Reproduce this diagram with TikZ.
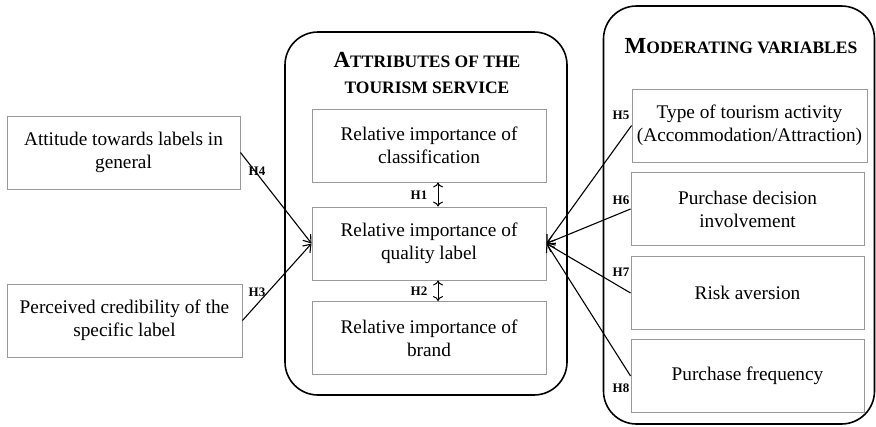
\documentclass[tikz,border=0pt]{standalone}
\usepackage{fontspec}
\setmainfont{Liberation Serif}
\usetikzlibrary{arrows.meta}
\newcommand{\bigsc}[2]{{\fontsize{23}{26}\selectfont #1}{\fontsize{17.5}{26}\selectfont #2}}
\begin{document}
\begin{tikzpicture}[x=1pt,y=-1pt,
  box/.style={draw=black!40, line width=0.9pt, align=center, inner sep=0pt,
    minimum width=234pt, minimum height=73pt, font=\fontsize{19.3}{23}\selectfont},
  container/.style={draw=black, line width=1.6pt, rounded corners=33pt, inner sep=0pt},
  title/.style={anchor=base, font=\bfseries, inner sep=0pt},
  hlab/.style={font=\fontsize{13}{14}\selectfont\bfseries, inner sep=0pt},
  arr/.style={line width=1.1pt, -{Straight Barb[length=7pt,width=10pt,line width=1.1pt]}},
  darr/.style={line width=1pt, {Computer Modern Rightarrow[length=5pt,width=10pt]}-{Computer Modern Rightarrow[length=5pt,width=10pt]}}
]
\useasboundingbox (0,0) rectangle (876,426);
% containers
\node[container, minimum width=282pt, minimum height=363pt] (attr) at (426,213.5) {};
\node[container, minimum width=271pt, minimum height=418pt] (mod) at (739,215) {};
% titles
\node[title] (attrT) at (427,67) {\bigsc{A}{TTRIBUTES OF THE}};
\node[title] (attrT2) at (427,93) {\fontsize{17.5}{26}\selectfont TOURISM SERVICE};
\node[title] (modT) at (741,53) {\bigsc{M}{ODERATING VARIABLES}};
% left boxes
\node[box, minimum width=233pt] (att) at (123.5,152.5) {Attitude towards labels in\\general};
\node[box, minimum width=235pt] (cred) at (124.5,320.5) {Perceived credibility of the\\specific label};
% center boxes
\node[box] (cls) at (429,145.5) {Relative importance of\\classification};
\node[box] (ql) at (429,243.5) {Relative importance of\\quality label};
\node[box] (br) at (429,338) {Relative importance of\\brand};
% right boxes
\node[box, minimum width=235pt] (type) at (749.5,125.5) {Type of tourism activity\\(Accommodation/Attraction)};
\node[box, minimum width=233pt] (pdi) at (747.5,209) {Purchase decision\\involvement};
\node[box, minimum width=233pt] (risk) at (747.5,293) {Risk aversion};
\node[box, minimum width=233pt] (freq) at (747.5,376) {Purchase frequency};
% connectors
\draw[arr] (att.east) -- (ql.west);
\draw[arr] (cred.east) -- (ql.west);
\draw[arr] (type.west) -- (ql.east);
\draw[arr] (pdi.west) -- (ql.east);
\draw[arr] (risk.west) -- (ql.east);
\draw[arr] (freq.west) -- (ql.east);
\draw[darr] (cls.south -| 438,0) -- (ql.north -| 438,0);
\draw[darr] (ql.south -| 438,0) -- (br.north -| 438,0);
% labels
\node[hlab] (h1) at (419,195) {H1};
\node[hlab] (h2) at (419,291) {H2};
\node[hlab] (h3) at (257,292) {H3};
\node[hlab] (h4) at (257,171) {H4};
\node[hlab] (h5) at (621,115) {H5};
\node[hlab] (h6) at (621,200) {H6};
\node[hlab] (h7) at (621,272) {H7};
\node[hlab] (h8) at (621,388) {H8};
\end{tikzpicture}
\end{document}
